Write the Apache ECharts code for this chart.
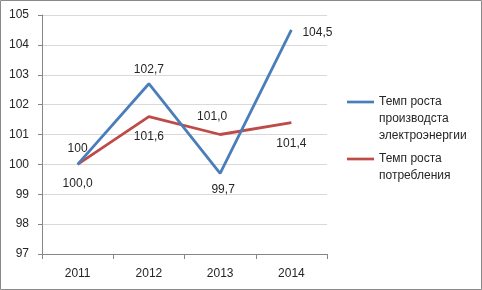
<!DOCTYPE html>
<html><head><meta charset="utf-8">
<script src="https://cdn.jsdelivr.net/npm/echarts@6/dist/echarts.min.js"></script>
<style>html,body{margin:0;padding:0;background:#fff}#c{width:482px;height:290px}</style>
</head><body><div id="c"></div>
<script>
const years = ['2011', '2012', '2013', '2014'];
const production = [100.0, 102.7, 99.7, 104.5];
const consumption = [100.0, 101.6, 101.0, 101.4];
const productionLabels = ['100', '102,7', '99,7', '104,5'];
const consumptionLabels = ['100,0', '101,6', '101,0', '101,4'];
const productionName = 'Темп роста\nпроизводста\nэлектроэнергии';
const consumptionName = 'Темп роста\nпотребления';
const yMin = 97, yMax = 105, yStep = 1;

const prodPos = [
  {position: 'top', distance: 10},
  {position: 'top', distance: 8},
  {position: 'bottom', distance: 10, offset: [3, 0]},
  {position: 'right', distance: 11, offset: [0, 3]}
];
const consPos = [
  {position: 'bottom', distance: 13},
  {position: 'bottom', distance: 14},
  {position: 'top', distance: 12, offset: [-8, 0]},
  {position: 'bottom', distance: 15}
];
const font = 'Liberation Sans, Arial, sans-serif';
const txt = '#262626';

function items(vals, labels, pos) {
  return vals.map((v, i) => ({
    value: v,
    label: Object.assign({formatter: labels[i]}, pos[i])
  }));
}
// put first text line level with legend icon
function legendFmt(name) {
  const n = name.split('\n').length;
  return '\n'.repeat(n - 1) + name;
}

const chart = echarts.init(document.getElementById('c'), null, {renderer: 'canvas'});
chart.setOption({
  animation: false,
  backgroundColor: '#fff',
  textStyle: {fontFamily: font},
  graphic: [{
    type: 'rect', silent: true, z: 100,
    shape: {x: 0.5, y: 0.5, width: 481, height: 289},
    style: {fill: 'none', stroke: '#8a8a8a', lineWidth: 1}
  }],
  legend: [{
    left: 342, top: 54.5, orient: 'vertical',
    itemWidth: 27, itemHeight: 14,
    icon: 'path://M0,0 L10,0 L10,1 L0,1 Z',
    formatter: legendFmt,
    data: [{name: productionName, itemStyle: {color: '#4A7EBB'}}],
    textStyle: {fontSize: 12, color: txt, fontFamily: font, lineHeight: 17}
  }, {
    left: 342, top: 128.5, orient: 'vertical',
    itemWidth: 27, itemHeight: 14,
    icon: 'path://M0,0 L10,0 L10,1 L0,1 Z',
    formatter: legendFmt,
    data: [{name: consumptionName, itemStyle: {color: '#BE4B48'}}],
    textStyle: {fontSize: 12, color: txt, fontFamily: font, lineHeight: 17}
  }],
  grid: {left: 42, right: 155, top: 15, bottom: 36, containLabel: false},
  xAxis: {
    type: 'category', data: years, boundaryGap: true,
    axisLine: {lineStyle: {color: '#868686', width: 1}},
    axisTick: {show: true, length: 5, lineStyle: {color: '#868686'}},
    axisLabel: {color: txt, fontSize: 12, margin: 14, fontFamily: font}
  },
  yAxis: {
    type: 'value', min: yMin, max: yMax, interval: yStep,
    axisLine: {show: true, lineStyle: {color: '#868686', width: 1}},
    axisTick: {show: true, length: 4, lineStyle: {color: '#868686'}},
    splitLine: {lineStyle: {color: '#d9d9d9', width: 1}},
    axisLabel: {color: txt, fontSize: 12, margin: 13, fontFamily: font}
  },
  series: [{
    name: productionName, type: 'line', showSymbol: true, symbol: 'circle', symbolSize: 0,
    data: items(production, productionLabels, prodPos),
    lineStyle: {color: '#4A7EBB', width: 2.8},
    itemStyle: {color: '#4A7EBB'},
    label: {show: true, color: txt, fontSize: 12, fontFamily: font},
    z: 3
  }, {
    name: consumptionName, type: 'line', showSymbol: true, symbol: 'circle', symbolSize: 0,
    data: items(consumption, consumptionLabels, consPos),
    lineStyle: {color: '#BE4B48', width: 2.8},
    itemStyle: {color: '#BE4B48'},
    label: {show: true, color: txt, fontSize: 12, fontFamily: font},
    z: 2
  }]
});
</script></body></html>
